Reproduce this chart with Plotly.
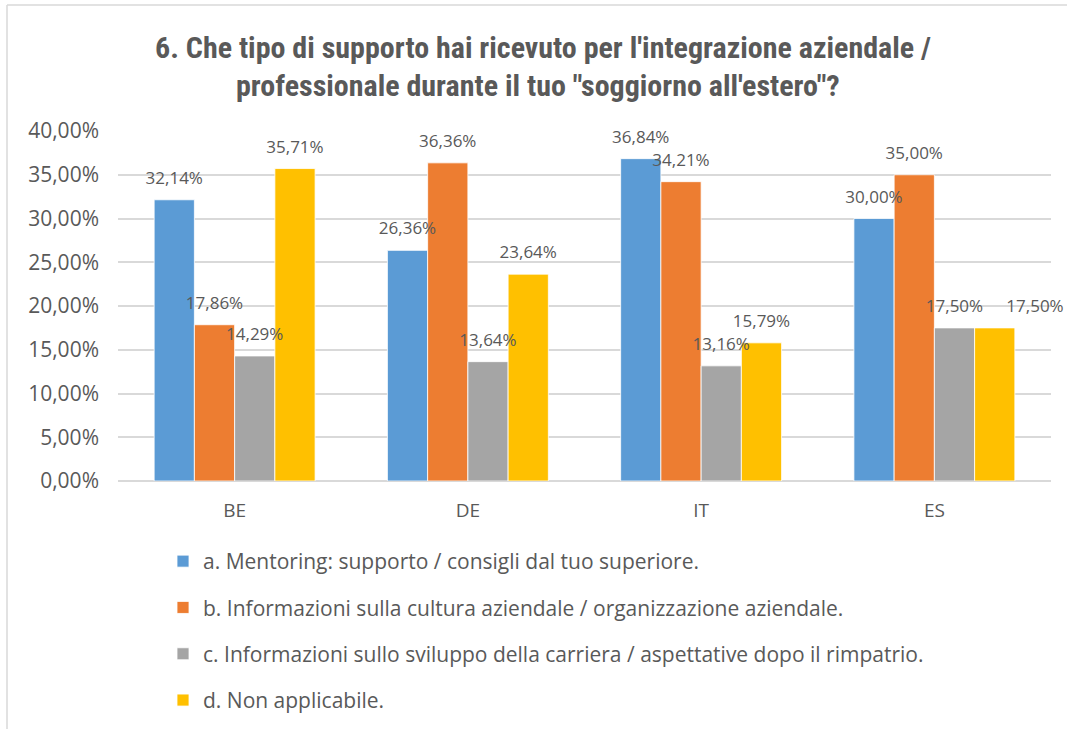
import plotly.graph_objects as go

categories = ["BE", "DE", "IT", "ES"]
series_names = [
    "a. Mentoring: supporto / consigli dal tuo superiore.",
    "b. Informazioni sulla cultura aziendale / organizzazione aziendale.",
    "c. Informazioni sullo sviluppo della carriera / aspettative dopo il rimpatrio.",
    "d. Non applicabile.",
]
values_a = [0.3214, 0.2636, 0.3684, 0.3000]
values_b = [0.1786, 0.3636, 0.3421, 0.3500]
values_c = [0.1429, 0.1364, 0.1316, 0.1750]
values_d = [0.3571, 0.2364, 0.1579, 0.1750]
colors = ["#5B9BD5", "#ED7D31", "#A5A5A5", "#FFC000"]
title_line1 = "6. Che tipo di supporto hai ricevuto per l'integrazione aziendale /"
title_line2 = "professionale durante il tuo \"soggiorno all'estero\"?"

TXT = "#595959"
GAP = 0.31


def fmt(v):
    return f"{v * 100:.2f}".replace(".", ",") + "%"


all_vals = [values_a, values_b, values_c, values_d]
# label placement: when a label would collide with its left neighbour at the
# same height, push it to the right (as the spreadsheet does)
positions = []
for i, vals in enumerate(all_vals):
    row = []
    for j, v in enumerate(vals):
        if i > 0 and abs(all_vals[i - 1][j] - v) < 0.01:
            row.append("top right")
        else:
            row.append("top center")
    positions.append(row)

fig = go.Figure()
for i, (name, vals) in enumerate(zip(series_names, all_vals)):
    fig.add_trace(go.Bar(
        x=categories, y=vals, name=name, offsetgroup=f"s{i}",
        marker=dict(color=colors[i], line=dict(color="white", width=0.8)),
        legendgroup=f"g{i}",
    ))
for i, vals in enumerate(all_vals):
    fig.add_trace(go.Scatter(
        x=categories, y=vals, mode="markers+text", offsetgroup=f"s{i}",
        marker=dict(size=17, opacity=0), text=[fmt(v) for v in vals],
        textposition=positions[i],
        textfont=dict(family="Open Sans", size=17, color=TXT),
        showlegend=False, hoverinfo="skip", cliponaxis=False,
    ))

L, R, T, B = 118, 1051, 131, 481
W, H = R - L, B - T
def px(x): return (x - L) / W
def py(y): return (B - y) / H

TITLE_FONT = "Liberation Sans Narrow, Roboto Condensed, Arial Narrow, sans-serif"
fig.update_layout(
    width=1067, height=729,
    margin=dict(l=L, r=1067 - R, t=T, b=729 - B, autoexpand=False),
    paper_bgcolor="white", plot_bgcolor="white",
    separators=", ",
    font=dict(family="Open Sans", size=21, color=TXT),
    barmode="group", bargap=GAP, bargroupgap=0,
    scattermode="group", scattergap=GAP,
    showlegend=True,
    legend=dict(x=px(163), y=py(541), xanchor="left", yanchor="top",
                orientation="v", tracegroupgap=16, font=dict(size=21, color=TXT),
                itemwidth=30),
    xaxis=dict(showgrid=False, showline=False, ticks="", tickfont=dict(size=19, color=TXT),
               ticklabelstandoff=16),
    yaxis=dict(range=[0, 0.40], dtick=0.05, tickformat=".2%", showgrid=True,
               gridcolor="#D9D9D9", gridwidth=1.5, zeroline=True, zerolinecolor="#D9D9D9",
               zerolinewidth=1.5, showline=False, ticks="", ticklen=0,
               tickfont=dict(size=21, color=TXT), ticklabelstandoff=18),
    annotations=[
        dict(text=f"<b>{title_line1}</b>", xref="paper", yref="paper", x=px(543), y=py(47),
             xanchor="center", yanchor="middle", showarrow=False,
             font=dict(family=TITLE_FONT, size=30, color=TXT)),
        dict(text=f"<b>{title_line2}</b>", xref="paper", yref="paper", x=px(538), y=py(85),
             xanchor="center", yanchor="middle", showarrow=False,
             font=dict(family=TITLE_FONT, size=30, color=TXT)),
    ],
    shapes=[
        dict(type="line", xref="paper", yref="paper", x0=px(7), x1=px(1070), y0=py(5), y1=py(5),
             line=dict(color="#D9D9D9", width=1.5)),
        dict(type="line", xref="paper", yref="paper", x0=px(7), x1=px(7), y0=py(5), y1=py(735),
             line=dict(color="#D9D9D9", width=1.5)),
    ],
)
fig.write_html("out.html", config={"displayModeBar": False},
               post_script="document.body.style.margin='0';document.body.style.overflow='hidden';")
